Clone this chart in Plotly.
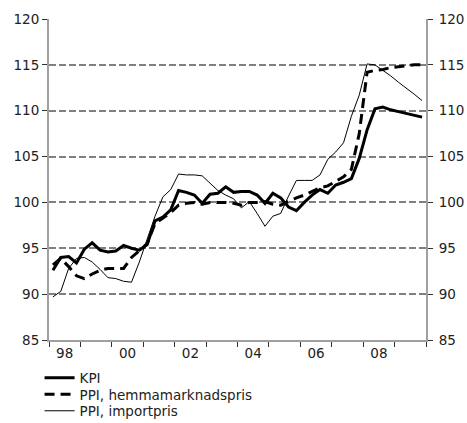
import plotly.graph_objects as go

# Quarterly data 1998Q1 - 2009Q4
start_year = 1998
n_quarters = 48

kpi = [92.6, 94.0, 94.1, 93.4, 94.9, 95.6, 94.8, 94.6, 94.7, 95.3, 95.0, 94.8,
       95.4, 98.0, 98.4, 99.2, 101.3, 101.1, 100.8, 99.9, 100.9, 101.0, 101.7, 101.1,
       101.2, 101.2, 100.8, 99.9, 101.0, 100.5, 99.5, 99.1, 100.0, 100.8, 101.4, 101.0,
       101.9, 102.2, 102.6, 104.8, 107.9, 110.2, 110.4, 110.1, 109.9, 109.7, 109.5, 109.3]

ppi_hemma = [93.2, 93.9, 93.0, 92.0, 91.7, 92.2, 92.6, 92.8, 92.8, 92.8, 94.0, 94.7,
             95.5, 97.7, 98.3, 98.9, 99.7, 99.9, 100.0, 99.8, 100.0, 100.0, 100.0, 99.9,
             99.7, 100.0, 100.0, 100.1, 99.8, 99.7, 100.1, 100.5, 100.8, 101.2, 101.6, 101.8,
             102.3, 102.8, 103.6, 107.5, 114.2, 114.4, 114.5, 114.7, 114.8, 114.9, 115.0, 115.0]

ppi_import = [89.7, 90.3, 92.8, 93.9, 94.0, 93.5, 92.7, 91.8, 91.7, 91.4, 91.3, 93.5,
              96.0, 98.5, 100.6, 101.4, 103.1, 103.0, 103.0, 102.9, 102.1, 101.3, 100.8, 100.4,
              99.4, 100.1, 98.8, 97.4, 98.5, 98.8, 100.7, 102.4, 102.4, 102.4, 103.0, 104.7,
              105.5, 106.5, 109.4, 111.7, 115.1, 115.0, 114.4, 113.8, 113.1, 112.5, 111.8, 111.1]

series_names = ["KPI", "PPI, hemmamarknadspris", "PPI, importpris"]

tick_years = [1998, 2000, 2002, 2004, 2006, 2008]
tick_labels = ["98", "00", "02", "04", "06", "08"]
y_ticks = [85, 90, 95, 100, 105, 110, 115, 120]

x = [start_year + (i // 4) + ((i % 4) + 0.5) / 4 for i in range(n_quarters)]

FONT = "DejaVu Sans"
fig = go.Figure()
fig.add_trace(go.Scatter(x=x, y=kpi, name=series_names[0], mode="lines", legend="legend",
                         line=dict(color="black", width=3)))
fig.add_trace(go.Scatter(x=x, y=ppi_hemma, name=series_names[1], mode="lines", legend="legend2",
                         line=dict(color="black", width=3, dash="10px,6px")))
fig.add_trace(go.Scatter(x=x, y=ppi_import, name=series_names[2], mode="lines", legend="legend3",
                         line=dict(color="black", width=1)))
fig.add_trace(go.Scatter(x=x, y=kpi, yaxis="y2", mode="lines", showlegend=False,
                         hoverinfo="skip", line=dict(width=0, color="rgba(0,0,0,0)")))

legend_style = dict(x=-0.025, xanchor="left", yanchor="middle", bgcolor="rgba(0,0,0,0)",
                    font=dict(family=FONT, size=13.5, color="#222"))

fig.update_layout(
    width=467, height=423,
    margin=dict(l=49, r=41, t=19, b=83, autoexpand=False),
    paper_bgcolor="white", plot_bgcolor="white",
    font=dict(family=FONT, size=13.5, color="#222"),
    xaxis=dict(range=[1998, 2010], tickvals=[y + 0.5 for y in tick_years], ticktext=tick_labels,
               ticks="", showgrid=False, zeroline=False, showline=True, linecolor="#a0a0a0", linewidth=2,
               automargin=False,
               minor=dict(tickvals=list(range(1998, 2011)), ticks="outside", ticklen=5,
                          tickcolor="#333", tickwidth=1, showgrid=False),
               tickfont=dict(family=FONT, size=13.5, color="#222")),
    yaxis=dict(range=[85, 120], tickvals=y_ticks, ticks="outside", ticklen=5, tickcolor="#333",
               showgrid=True, gridcolor="#808080", gridwidth=2, griddash="7px,3px",
               zeroline=False, showline=True, linecolor="#a0a0a0", linewidth=2, automargin=False,
               tickfont=dict(family=FONT, size=13.5, color="#222")),
    yaxis2=dict(range=[85, 120], tickvals=y_ticks, overlaying="y", side="right", ticks="outside",
                ticklen=5, tickcolor="#333", showgrid=False, zeroline=False, showline=True,
                linecolor="#a0a0a0", linewidth=2, automargin=False, ticklabelstandoff=3,
                tickfont=dict(family=FONT, size=13.5, color="#222")),
    legend=dict(y=-0.1184, **legend_style),
    legend2=dict(y=-0.1698, **legend_style),
    legend3=dict(y=-0.2212, **legend_style),
    showlegend=True,
)

# remove the browser's default 8px body margin so the figure fills the window exactly
fig.write_html("out.html", config={"displayModeBar": False},
               post_script="document.body.style.margin='0';")
